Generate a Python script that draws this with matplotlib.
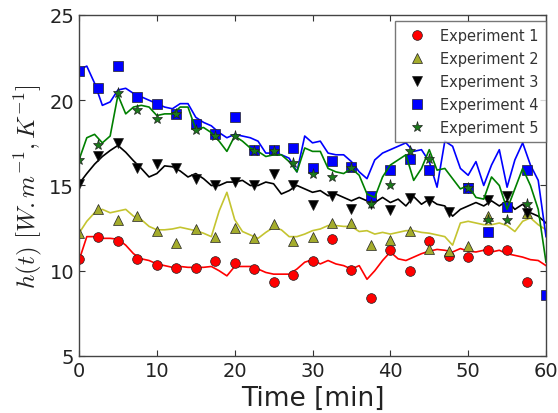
import numpy as np
import matplotlib
matplotlib.use("Agg")
import matplotlib.pyplot as plt

nan = np.nan

# marker times (min)
marker_time = [0, 2.5, 5, 7.5, 10, 12.5, 15, 17.5, 20, 22.5, 25, 27.5, 30,
               32.5, 35, 37.5, 40, 42.5, 45, 47.5, 50, 52.5, 55, 57.5, 60]

exp1_markers = [10.7, 12.0, 11.75, 10.7, 10.35, 10.15, 10.15, 10.55, 10.45, 10.1, 9.35, 9.75, 10.6,
                11.85, 10.05, 8.4, 11.2, 10.0, 11.75, 10.85, 10.8, 11.2, 11.2, 9.35, nan]
exp2_markers = [12.2, 13.6, 13.0, 13.2, 12.35, 11.65, 12.45, 11.95, 12.5, 11.9, 12.75, 11.75, 12.0,
                12.8, 12.8, 11.5, 11.8, 12.35, 11.3, 11.15, 11.45, 13.2, nan, 13.4, nan]
exp3_markers = [15.1, 16.75, 17.5, 16.0, 16.25, 16.0, 15.4, 15.0, 15.2, 15.0, 15.7, 15.0, 13.85,
                14.4, 13.6, 13.9, 13.55, 14.25, 14.1, 13.45, 14.85, 14.15, 14.4, 13.4, nan]
exp4_markers = [21.7, 20.7, 22.0, 20.2, 19.8, 19.2, 18.6, 18.0, 19.0, 17.1, 17.1, 17.2, 16.0,
                16.45, 16.1, 14.4, 15.9, 16.55, 15.9, nan, 14.85, 12.3, 13.75, 15.9, 8.6]
exp5_markers = [16.5, 17.4, 20.4, 19.4, 18.9, 19.2, 18.25, 17.9, 17.9, 17.0, 17.0, 16.3, 15.7,
                15.5, 16.0, 13.9, 15.0, 17.05, 16.55, nan, 14.85, 13.0, 13.0, 13.9, nan]

# continuous curves, one value per minute (0..60)
line_time = list(range(0, 61))

exp1_line = [10.6, 12.0, 12.0, 11.9, 11.9, 11.85, 11.5, 11.0, 10.7, 10.6,
             10.4, 10.3, 10.2, 10.25, 10.2, 10.2, 10.2, 10.25, 10.0, 9.7,
             10.25, 10.25, 10.25, 10.1, 9.9, 9.8, 9.8, 9.8, 10.1, 10.5,
             10.65, 10.4, 10.6, 10.4, 10.3, 10.1, 10.3, 9.5, 10.0, 10.6,
             11.1, 10.7, 10.6, 10.8, 11.0, 11.15, 11.25, 11.2, 11.1, 11.3,
             11.15, 11.1, 11.2, 11.1, 11.2, 11.0, 10.9, 10.8, 10.65, 10.6,
             10.3]
exp2_line = [12.2, 12.9, 13.4, 13.6, 13.4, 13.5, 13.6, 13.2, 13.0, 12.6,
             12.4, 12.4, 12.45, 12.55, 12.45, 12.35, 12.2, 12.0, 13.5, 14.6,
             13.0, 12.3, 12.1, 11.9, 12.25, 12.55, 12.4, 12.0, 12.0, 12.15,
             12.35, 12.45, 12.65, 12.65, 12.6, 12.6, 12.3, 12.35, 12.15, 12.25,
             12.15, 12.25, 12.35, 12.35, 12.25, 12.2, 12.1, 12.0, 11.5, 12.8,
             12.9, 12.8, 12.7, 12.7, 12.8, 12.65, 12.3, 12.9, 13.1, 12.7,
             12.4]
exp3_line = [15.1, 15.7, 16.25, 16.7, 17.05, 17.35, 16.95, 16.45, 16.0, 15.5,
             15.7, 16.15, 16.1, 15.85, 15.5, 15.7, 15.4, 15.0, 15.0, 15.2,
             15.2, 15.3, 15.0, 15.0, 15.2, 15.1, 14.5, 14.7, 15.0, 14.8,
             14.6, 14.7, 14.4, 14.5, 14.3, 14.1, 14.3, 14.1, 14.0, 14.3,
             14.0, 14.2, 13.8, 14.35, 13.9, 14.2, 13.9, 13.8, 13.2, 13.6,
             13.8, 14.0, 13.8, 14.1, 13.8, 14.1, 13.6, 13.9, 13.4, 13.2,
             12.8]
exp4_line = [21.8, 22.0, 21.0, 19.7, 19.9, 20.6, 20.7, 20.4, 20.2, 20.0,
             19.8, 19.6, 19.5, 19.8, 19.8, 19.0, 18.7, 18.5, 18.1, 17.8,
             18.0, 17.9, 17.8, 17.6, 16.9, 16.9, 16.8, 16.6, 15.8, 17.9,
             17.5, 17.6, 16.9, 16.8, 16.8, 16.4, 15.8, 15.4, 16.5, 16.9,
             17.1, 17.3, 17.5, 17.0, 17.1, 16.4, 14.9, 17.6, 17.3, 16.0,
             15.6, 16.4, 15.0, 16.2, 17.1, 14.9, 16.5, 17.5, 16.2, 15.3,
             12.0]
exp5_line = [16.5, 17.8, 18.0, 17.5, 17.9, 20.3, 19.2, 19.6, 19.7, 19.6,
             19.1, 19.2, 19.2, 19.6, 19.6, 18.3, 18.4, 18.1, 17.6, 17.0,
             17.9, 17.6, 17.2, 17.0, 16.7, 16.8, 16.8, 16.4, 15.8, 17.2,
             17.0, 17.0, 16.0, 15.8, 15.7, 16.0, 15.6, 14.5, 14.3, 15.5,
             16.2, 16.5, 16.8, 15.3, 16.0, 17.1, 15.9, 16.0, 15.4, 14.8,
             15.0, 14.3, 14.2, 15.5, 15.0, 13.6, 14.8, 16.0, 15.0, 13.6,
             10.5]

labels = ["Experiment 1", "Experiment 2", "Experiment 3", "Experiment 4", "Experiment 5"]
line_colors = ["#ff0000", "#c4c430", "#000000", "#0000ff", "#008000"]
marker_colors = ["#ff0000", "#a4ac2c", "#000000", "#0000ff", "#1a7a1a"]
markers = ["o", "^", "v", "s", "*"]
msizes = [7, 7, 7, 7, 8]

plt.rcParams["mathtext.fontset"] = "cm"
plt.rcParams["font.family"] = "DejaVu Sans"

fig = plt.figure(figsize=(5.58, 4.14), dpi=100)
ax = fig.add_axes([0.1416, 0.1377, 0.8369, 0.8237])

lines_all = [exp1_line, exp2_line, exp3_line, exp4_line, exp5_line]
marks_all = [exp1_markers, exp2_markers, exp3_markers, exp4_markers, exp5_markers]

for ln, mk, lc, mc, m, ms, lab in zip(lines_all, marks_all, line_colors, marker_colors,
                                      markers, msizes, labels):
    ax.plot(line_time, ln, color=lc, lw=1.2)
    ax.plot(marker_time, mk, linestyle="none", marker=m, color=mc, ms=ms,
            mec="#222222", mew=0.5, label=lab)

ax.set_xlim(0, 60)
ax.set_ylim(5, 25)
ax.set_xticks([0, 10, 20, 30, 40, 50, 60])
ax.set_yticks([5, 10, 15, 20, 25])
ax.tick_params(direction="in", top=True, right=True, labelsize=14, length=4, width=0.8,
               colors="#333333", labelcolor="#222222")
for s in ax.spines.values():
    s.set_color("#444444")
    s.set_linewidth(1.0)

ax.set_xlabel("Time [min]", fontsize=19, color="#222222")
ax.set_ylabel(r"$h(t)\ [W.m^{-1}, K^{-1}]$", fontsize=18, color="#222222")

leg = ax.legend(loc="upper right", numpoints=1, prop={"size": 10.5}, fancybox=False,
                borderaxespad=0.0, handletextpad=0.58, labelspacing=0.55,
                handlelength=2.0, borderpad=0.5,
                bbox_to_anchor=(1.0, 0.983))
leg.get_frame().set_edgecolor("#555555")
leg.get_frame().set_linewidth(1.0)
for t in leg.get_texts():
    t.set_color("#333333")

fig.savefig("out.png", dpi=100)
